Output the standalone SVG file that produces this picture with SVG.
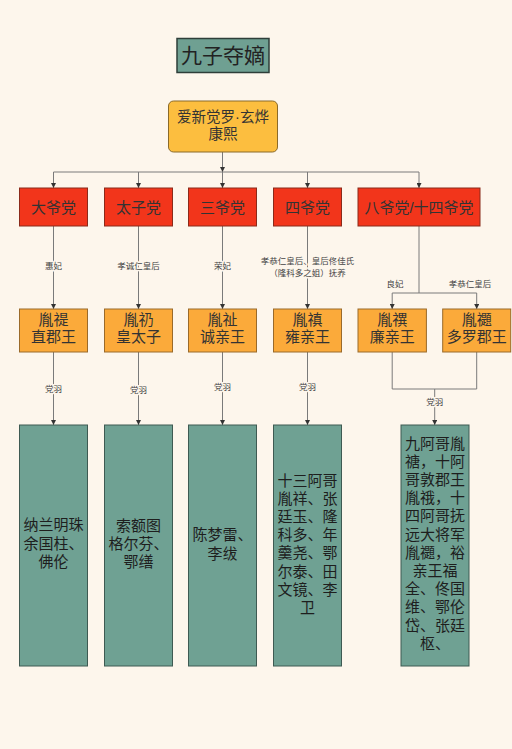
<svg xmlns="http://www.w3.org/2000/svg" width="512" height="749" viewBox="0 0 512 749">
<defs>
<marker id="arr" viewBox="0 0 10 10" refX="10" refY="5" markerWidth="5" markerHeight="5" orient="auto" markerUnits="userSpaceOnUse">
<path d="M0,0 L10,5 L0,10 z" fill="#333"/>
</marker>
</defs>
<style>
text{font-family:"Liberation Sans","Noto Sans CJK SC",sans-serif;text-anchor:middle;fill:#222}
.title rect{fill:#6fa092;stroke:#2e3e39;stroke-width:1.5}
.title text{font-size:21px}
.root rect{fill:#fcbe3f;stroke:#8a6a2a;stroke-width:1}
.root text{font-size:14.5px;fill:#333}
.party rect{fill:#f2351b;stroke:#8a2a1a;stroke-width:1}
.party text{font-size:15px;fill:#333}
.prince rect{fill:#fbaa3a;stroke:#9a6a2a;stroke-width:1}
.prince text{font-size:15px;fill:#333}
.ally rect{fill:#6fa193;stroke:#3e5a52;stroke-width:1}
.ally text{font-size:15px;fill:#1e1e1e}
.edges path{fill:none;stroke:#7a7a7a;stroke-width:1}
.edges .a{marker-end:url(#arr)}
.lbl{font-size:8.5px;fill:#444;stroke:#fdf6ec;stroke-width:3px;paint-order:stroke;stroke-linejoin:round}
</style>
<rect width="512" height="749" fill="#fdf6ec"/>

<g class="edges" id="connectors">
<path class="a" d="M222.5,152 V172"/>
<path d="M53.5,172 H419"/>
<path class="a" d="M53.5,172 V188"/>
<path class="a" d="M138.5,172 V188"/>
<path class="a" d="M222.5,172 V188"/>
<path class="a" d="M307.5,172 V188"/>
<path class="a" d="M419,172 V188"/>
<path class="a" d="M53.5,226 V309"/>
<path class="a" d="M138.5,226 V309"/>
<path class="a" d="M222.5,226 V309"/>
<path class="a" d="M307.5,226 V309"/>
<path d="M419,226 V293 M392.2,293 H476.7"/>
<path class="a" d="M392.2,293 V309"/>
<path class="a" d="M476.7,293 V309"/>
<path class="a" d="M53.5,352 V425"/>
<path class="a" d="M138.5,352 V425"/>
<path class="a" d="M222.5,352 V425"/>
<path class="a" d="M307.5,352 V425"/>
<path d="M392.2,352 V389 H476.7 V352"/>
<path class="a" d="M434.7,389 V425"/>
<text class="lbl" x="53.5" y="269">惠妃</text>
<text class="lbl" x="138.5" y="269">孝诚仁皇后</text>
<text class="lbl" x="222.5" y="269">荣妃</text>
<text class="lbl" x="307.5" y="263.7">孝恭仁皇后、皇后佟佳氏</text>
<text class="lbl" x="307.5" y="275.7">（隆科多之姐）抚养</text>
<text class="lbl" x="395" y="287.3">良妃</text>
<text class="lbl" x="470" y="287.3">孝恭仁皇后</text>
<text class="lbl" x="53.5" y="392">党羽</text>
<text class="lbl" x="138.5" y="393">党羽</text>
<text class="lbl" x="222.5" y="390">党羽</text>
<text class="lbl" x="307.5" y="390">党羽</text>
<text class="lbl" x="434.7" y="404.7">党羽</text>
</g>

<g class="title" id="title">
<rect x="177" y="38.5" width="92" height="34"/>
<text x="223" y="63">九子夺嫡</text>
</g>

<g class="root" id="kangxi">
<rect x="168.5" y="101" width="109" height="51" rx="5"/>
<text x="223" y="122">爱新觉罗·玄烨</text>
<text x="223" y="139">康熙</text>
</g>

<g class="party" id="p1"><rect x="19.5" y="188" width="68" height="38"/><text x="53.5" y="212.5">大爷党</text></g>
<g class="party" id="p2"><rect x="104.5" y="188" width="68" height="38"/><text x="138.5" y="212.5">太子党</text></g>
<g class="party" id="p3"><rect x="188.5" y="188" width="68" height="38"/><text x="222.5" y="212.5">三爷党</text></g>
<g class="party" id="p4"><rect x="273.5" y="188" width="68" height="38"/><text x="307.5" y="212.5">四爷党</text></g>
<g class="party" id="p8"><rect x="358" y="188" width="122" height="38"/><text x="419" y="212.5">八爷党/十四爷党</text></g>

<g class="prince" id="yinti"><rect x="19.5" y="309" width="68" height="43"/><text x="53.5" y="324.8">胤禔</text><text x="53.5" y="342.2">直郡王</text></g>
<g class="prince" id="yinreng"><rect x="104.5" y="309" width="68" height="43"/><text x="138.5" y="324.8">胤礽</text><text x="138.5" y="342.2">皇太子</text></g>
<g class="prince" id="yinzhi"><rect x="188.5" y="309" width="68" height="43"/><text x="222.5" y="324.8">胤祉</text><text x="222.5" y="342.2">诚亲王</text></g>
<g class="prince" id="yinzhen"><rect x="273.5" y="309" width="68" height="43"/><text x="307.5" y="324.8">胤禛</text><text x="307.5" y="342.2">雍亲王</text></g>
<g class="prince" id="yinsi"><rect x="358" y="309" width="68.4" height="43"/><text x="392.2" y="324.8">胤禩</text><text x="392.2" y="342.2">廉亲王</text></g>
<g class="prince" id="yinti14"><rect x="442.7" y="309" width="68" height="43"/><text x="476.7" y="324.8">胤禵</text><text x="476.7" y="342.2">多罗郡王</text></g>

<g class="ally" id="a1"><rect x="19.5" y="425" width="68" height="241"/>
<text y="530.3"><tspan x="53.5">纳兰明珠</tspan><tspan x="53.5" dy="18.2">余国柱、</tspan><tspan x="53.5" dy="18.2">佛伦</tspan></text></g>
<g class="ally" id="a2"><rect x="104.5" y="425" width="68" height="241"/>
<text y="531"><tspan x="138.5">索额图</tspan><tspan x="138.5" dy="18.2">格尔芬、</tspan><tspan x="138.5" dy="18.2">鄂缮</tspan></text></g>
<g class="ally" id="a3"><rect x="188.5" y="425" width="68" height="241"/>
<text y="540.3"><tspan x="222.5">陈梦雷、</tspan><tspan x="222.5" dy="18.2">李绂</tspan></text></g>
<g class="ally" id="a4"><rect x="273.5" y="425" width="68" height="241"/>
<text y="486"><tspan x="307.5">十三阿哥</tspan><tspan x="307.5" dy="18.1">胤祥、张</tspan><tspan x="307.5" dy="18.1">廷玉、隆</tspan><tspan x="307.5" dy="18.1">科多、年</tspan><tspan x="307.5" dy="18.1">羹尧、鄂</tspan><tspan x="307.5" dy="18.1">尔泰、田</tspan><tspan x="307.5" dy="18.1">文镜、李</tspan><tspan x="307.5" dy="18.1">卫</tspan></text></g>
<g class="ally" id="a5"><rect x="401" y="425" width="68" height="241"/>
<text y="448.6"><tspan x="435">九阿哥胤</tspan><tspan x="435" dy="18.2">禟，十阿</tspan><tspan x="435" dy="18.2">哥敦郡王</tspan><tspan x="435" dy="18.2">胤䄉，十</tspan><tspan x="435" dy="18.2">四阿哥抚</tspan><tspan x="435" dy="18.2">远大将军</tspan><tspan x="435" dy="18.2">胤禵，裕</tspan><tspan x="435" dy="18.2">亲王福</tspan><tspan x="435" dy="18.2">全、佟国</tspan><tspan x="435" dy="18.2">维、鄂伦</tspan><tspan x="435" dy="18.2">岱、张廷</tspan><tspan x="435" dy="18.2">枢、</tspan></text></g>
</svg>
